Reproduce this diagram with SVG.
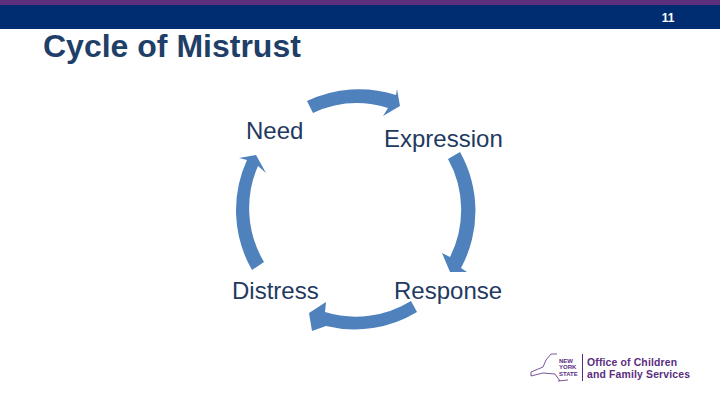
<svg xmlns="http://www.w3.org/2000/svg" width="720" height="405" viewBox="0 0 720 405">
<style>
.l{font-family:"Liberation Sans",Arial,sans-serif;font-size:24px;fill:#1f3a60}
.a{fill:#4f81bd}
.o{font-family:"Liberation Sans",Arial,sans-serif;font-weight:700;font-size:10.400px;fill:#5a2d81}
.n{font-family:"Liberation Sans",Arial,sans-serif;font-weight:700;font-size:6px;fill:#5a2d81}
</style>
<rect width="720" height="405" fill="#fff"/>
<g id="header">
<rect width="720" height="5" fill="#5b2f7c"/>
<rect y="5" width="720" height="24" fill="#002d72"/>
<text x="668" y="22" text-anchor="middle" font-family="Liberation Sans,Arial,sans-serif" font-weight="700" font-size="12" fill="#fff">11</text>
</g>
<text id="title" x="43" y="57" font-family="Liberation Sans,Arial,sans-serif" font-weight="700" font-size="32" fill="#1f3f68">Cycle of Mistrust</text>
<g id="connectors">
<path class="a" d="M307 101A120 120 0 0 1 396 95L397 89L400 106L383 116L388 108A105 105 0 0 0 313 113Z"/>
<path class="a" d="M460 152A120 120 0 0 1 461 268L467 272H450L442 253L450 257A105 105 0 0 0 448 159Z"/>
<path class="a" d="M417 312A120 120 0 0 1 326 326L312 331L309 313L326 302L325 312A105 105 0 0 0 411 301Z"/>
<path class="a" d="M252 270A120 120 0 0 1 247 160L239 158L256 155L266 173L258 166A105 105 0 0 0 264 262Z"/>
</g>
<g id="need"><text class="l" x="246" y="139">Need</text></g>
<g id="expression"><text class="l" x="384" y="147">Expression</text></g>
<g id="response"><text class="l" x="394" y="299">Response</text></g>
<g id="distress"><text class="l" x="232" y="299">Distress</text></g>
<g id="logo">
<path d="M557 354L551 354L546 360L543 367L531 372L531 376L543 373L555 374L560 381M558 381L568 380" fill="none" stroke="#5a2d81" stroke-width="0.800"/>
<text class="n" x="559" y="362.500">NEW</text>
<text class="n" x="559" y="369">YORK</text>
<text class="n" x="559" y="375.500">STATE</text>
<rect x="582" y="354" width="1" height="27" fill="#5a2d81"/>
<text class="o" x="587" y="366" textLength="90">Office of Children</text>
<text class="o" x="587" y="378" textLength="103">and Family Services</text>
</g>
</svg>
